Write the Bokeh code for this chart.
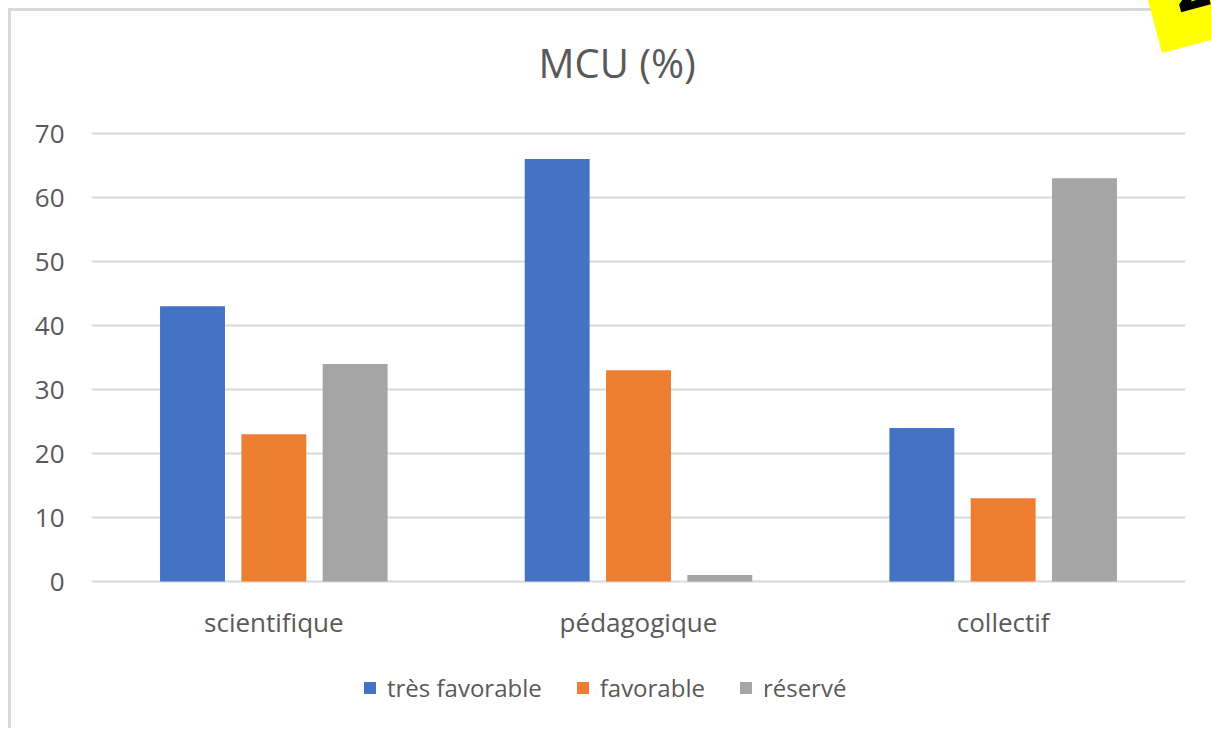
from bokeh.plotting import figure
from bokeh.models import ColumnDataSource, FactorRange, Range1d, Legend, LegendItem, FixedTicker, InlineStyleSheet
from bokeh.transform import dodge
from bokeh.embed import file_html
from bokeh.resources import INLINE

categories = ["scientifique", "pédagogique", "collectif"]
tres_favorable = [43, 66, 24]
favorable = [23, 33, 13]
reserve = [34, 1, 63]
series_names = ["très favorable", "favorable", "réservé"]
colors = ["#4472C4", "#ED7D31", "#A5A5A5"]
y_ticks = [0, 10, 20, 30, 40, 50, 60, 70]
title_text = "MCU (%)"

FONT = "Open Sans"
TXT = "#595959"
GRID = "#d9d9d9"

src = ColumnDataSource(dict(cat=categories, a=tres_favorable, b=favorable, c=reserve,
                            base=[0] * len(categories)))

sticky_css = InlineStyleSheet(css="""
:host { position: relative; }
:host::before {
  content: "";
  position: absolute;
  left: 1129px; top: -11px; width: 71px; height: 60px;
  background: #ffff00;
  clip-path: polygon(8px 0px, 22px 53px, 71px 40px, 71px 0px);
  z-index: 10;
}
:host::after {
  content: "2";
  position: absolute;
  left: 1160px; top: -50px; width: 40px; height: 56px;
  font: bold 58px "DejaVu Sans", sans-serif;
  line-height: 56px;
  color: #000;
  text-align: center;
  transform: rotate(-15deg);
  z-index: 11;
}
""")

# frame spans from a little above the 70 line down to the bottom of the canvas (6.4 px per unit)
p = figure(x_range=FactorRange(*categories, range_padding=0), y_range=Range1d(-23.4375, 74.375),
           width=1200, height=720, output_backend="svg", toolbar_location=None,
           x_axis_location=None,
           min_border_left=80, min_border_right=26, min_border_top=94, min_border_bottom=0,
           styles={"margin-left": "8px", "margin-top": "8px",
                   "border-left": "3px solid #d9d9d9", "border-top": "3px solid #d9d9d9"},
           stylesheets=[sticky_css])

p.outline_line_color = None
p.background_fill_color = "white"
p.border_fill_color = "white"

p.title.text = title_text
p.title.align = "left"
p.title.offset = 447
p.title.text_font = FONT
p.title.text_font_size = "40px"
p.title.text_font_style = "normal"
p.title.text_color = TXT
p.title.standoff = 32

bw = 0.178
off = 0.223
r1 = p.vbar(x=dodge("cat", -off, range=p.x_range), top="a", width=bw, source=src, fill_color=colors[0], line_color=None)
r2 = p.vbar(x=dodge("cat", 0, range=p.x_range), top="b", width=bw, source=src, fill_color=colors[1], line_color=None)
r3 = p.vbar(x=dodge("cat", off, range=p.x_range), top="c", width=bw, source=src, fill_color=colors[2], line_color=None)

# category labels under the zero line
p.text(x="cat", y="base", text="cat", source=src, y_offset=40,
       text_align="center", text_baseline="alphabetic",
       text_font={"value": FONT}, text_font_size="26px", text_color=TXT)

p.grid.grid_line_color = None
p.ygrid.grid_line_color = GRID
p.ygrid.grid_line_width = 2
p.yaxis.ticker = FixedTicker(ticks=y_ticks)
p.yaxis.axis_line_color = None
p.yaxis.major_tick_line_color = None
p.yaxis.minor_tick_line_color = None
p.yaxis.major_label_standoff = 21
p.yaxis.major_label_text_font = FONT
p.yaxis.major_label_text_font_size = "26px"
p.yaxis.major_label_text_color = TXT

legend = Legend(items=[LegendItem(label=series_names[0], renderers=[r1]),
                       LegendItem(label=series_names[1], renderers=[r2]),
                       LegendItem(label=series_names[2], renderers=[r3])],
                orientation="horizontal", location=(271, 27), padding=0, margin=0,
                spacing=33, glyph_width=15, glyph_height=15, label_standoff=10,
                label_text_font=FONT, label_text_font_size="24px", label_text_color=TXT,
                background_fill_alpha=0, border_line_color=None)
p.add_layout(legend, "center")

open("out.html", "w").write(file_html(p, INLINE))
